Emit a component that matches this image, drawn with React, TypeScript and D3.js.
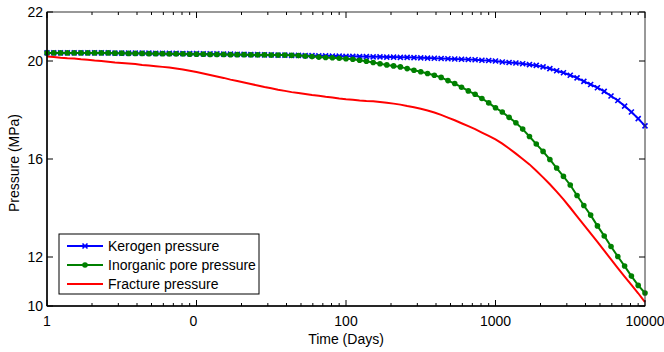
import React, { useEffect, useRef } from "react";
import * as d3 from "d3";

// log-spaced sample grid: 22 samples per decade, 1..10000 days
const STEPS_PER_DECADE = 22;

const kerogen = [
  20.33, 20.33, 20.33, 20.33, 20.33, 20.33, 20.33, 20.33, 20.33, 20.33,
  20.32, 20.32, 20.32, 20.32, 20.32, 20.32, 20.31, 20.31, 20.31, 20.31,
  20.3, 20.3, 20.3, 20.29, 20.29, 20.29, 20.28, 20.28, 20.27, 20.27,
  20.26, 20.26, 20.25, 20.25, 20.24, 20.24, 20.23, 20.23, 20.22, 20.22,
  20.21, 20.21, 20.2, 20.2, 20.19, 20.19, 20.18, 20.18, 20.17, 20.17,
  20.16, 20.16, 20.15, 20.15, 20.14, 20.13, 20.12, 20.11, 20.1, 20.09,
  20.08, 20.07, 20.06, 20.05, 20.03, 20.02, 20.0, 19.96, 19.94, 19.92,
  19.89, 19.85, 19.82, 19.76, 19.69, 19.6, 19.52, 19.42, 19.31, 19.17,
  19.04, 18.91, 18.76, 18.57, 18.39, 18.16, 17.92, 17.65, 17.35,
];

const inorganic = [
  20.33, 20.33, 20.33, 20.33, 20.33, 20.33, 20.33, 20.33, 20.33, 20.33,
  20.32, 20.32, 20.31, 20.31, 20.31, 20.3, 20.3, 20.3, 20.29, 20.29,
  20.29, 20.28, 20.28, 20.28, 20.27, 20.27, 20.27, 20.26, 20.26, 20.26,
  20.25, 20.25, 20.25, 20.24, 20.24, 20.24, 20.23, 20.22, 20.2, 20.18,
  20.16, 20.14, 20.13, 20.11, 20.09, 20.07, 20.03, 19.99, 19.94, 19.89,
  19.84, 19.8, 19.76, 19.69, 19.62, 19.56, 19.49, 19.42, 19.33, 19.2,
  19.08, 18.93, 18.78, 18.64, 18.47, 18.29, 18.09, 17.92, 17.7, 17.48,
  17.22, 16.92, 16.61, 16.31, 15.98, 15.63, 15.29, 14.94, 14.51, 14.1,
  13.71, 13.27, 12.86, 12.43, 12.02, 11.63, 11.22, 10.84, 10.53,
];

const fracture = [
  20.18, 20.16, 20.13, 20.11, 20.1, 20.07, 20.05, 20.02, 20.0, 19.97,
  19.94, 19.92, 19.9, 19.88, 19.84, 19.82, 19.79, 19.76, 19.73, 19.69,
  19.65, 19.6, 19.55, 19.49, 19.43, 19.37, 19.31, 19.24, 19.18, 19.12,
  19.06, 19.0, 18.94, 18.89, 18.83, 18.78, 18.73, 18.69, 18.65, 18.61,
  18.58, 18.54, 18.51, 18.47, 18.44, 18.42, 18.39, 18.37, 18.36, 18.33,
  18.3, 18.26, 18.22, 18.16, 18.11, 18.05, 17.98, 17.9, 17.8, 17.69,
  17.58, 17.46, 17.34, 17.22, 17.08, 16.94, 16.8, 16.63, 16.43, 16.22,
  16.0, 15.78, 15.52, 15.25, 14.97, 14.67, 14.35, 14.01, 13.66, 13.31,
  12.96, 12.62, 12.26, 11.9, 11.55, 11.2, 10.86, 10.52, 10.16,
];

const seriesNames = ["Kerogen pressure", "Inorganic pore pressure", "Fracture pressure"];
const seriesColors = ["#0000ff", "#008000", "#ff0000"];

const xTickValues = [1, 10, 100, 1000, 10000];
const xTickLabels = ["1", "0", "100", "1000", "10000"];
const yTickValues = [10, 12, 16, 20, 22];

const W = 664;
const H = 352;
const margin = { top: 12, right: 19, bottom: 46, left: 47 };
const FONT = "'Liberation Sans', Arial, sans-serif";

export default function App() {
  const ref = useRef<SVGSVGElement | null>(null);

  useEffect(() => {
    if (!ref.current) return;
    const root = d3.select(ref.current);
    root.selectAll("*").remove();

    const iw = W - margin.left - margin.right;
    const ih = H - margin.top - margin.bottom;

    const x = d3.scaleLog().domain([1, 10000]).range([0, iw]);
    const y = d3.scaleLinear().domain([10, 22]).range([ih, 0]);

    const g = root.append("g").attr("transform", `translate(${margin.left},${margin.top})`);

    const times = kerogen.map((_, i) => Math.pow(10, i / STEPS_PER_DECADE));

    const line = d3
      .line<number>()
      .x((_, i) => x(times[i]))
      .y((d) => y(d));

    g.append("defs")
      .append("clipPath")
      .attr("id", "clip")
      .append("rect")
      .attr("x", -4)
      .attr("y", -4)
      .attr("width", iw + 8)
      .attr("height", ih + 8);

    const plot = g.append("g").attr("clip-path", "url(#clip)");

    // kerogen
    plot
      .append("path")
      .datum(kerogen)
      .attr("fill", "none")
      .attr("stroke", seriesColors[0])
      .attr("stroke-width", 2)
      .attr("d", line);
    plot
      .selectAll(".kx")
      .data(kerogen)
      .join("path")
      .attr("class", "kx")
      .attr("transform", (d, i) => `translate(${x(times[i])},${y(d)})`)
      .attr("d", "M-2.5,-2.5L2.5,2.5M-2.5,2.5L2.5,-2.5")
      .attr("stroke", seriesColors[0])
      .attr("stroke-width", 1.6);

    // inorganic
    plot
      .append("path")
      .datum(inorganic)
      .attr("fill", "none")
      .attr("stroke", seriesColors[1])
      .attr("stroke-width", 2)
      .attr("d", line);
    plot
      .selectAll(".ic")
      .data(inorganic)
      .join("circle")
      .attr("class", "ic")
      .attr("cx", (_, i) => x(times[i]))
      .attr("cy", (d) => y(d))
      .attr("r", 2.8)
      .attr("fill", seriesColors[1]);

    // fracture
    plot
      .append("path")
      .datum(fracture)
      .attr("fill", "none")
      .attr("stroke", seriesColors[2])
      .attr("stroke-width", 2)
      .attr("d", line);

    // frame
    g.append("rect")
      .attr("width", iw)
      .attr("height", ih)
      .attr("fill", "none")
      .attr("stroke", "#333")
      .attr("stroke-width", 1);
    g.append("line").attr("x1", 0).attr("x2", 0).attr("y1", 0).attr("y2", ih)
      .attr("stroke", "#000").attr("stroke-width", 1.5);
    g.append("line").attr("x1", 0).attr("x2", iw).attr("y1", ih).attr("y2", ih)
      .attr("stroke", "#000").attr("stroke-width", 1.5);

    // x ticks (inward, bottom and top)
    const minor: number[] = [];
    for (let dec = 1; dec < 10000; dec *= 10) {
      for (let k = 2; k <= 9; k++) minor.push(dec * k);
    }
    const ticks = g.append("g").attr("stroke", "#000").attr("stroke-width", 1);
    xTickValues.forEach((v) => {
      ticks.append("line").attr("x1", x(v)).attr("x2", x(v)).attr("y1", ih).attr("y2", ih - 6);
      ticks.append("line").attr("x1", x(v)).attr("x2", x(v)).attr("y1", 0).attr("y2", 6);
    });
    minor.forEach((v) => {
      ticks.append("line").attr("x1", x(v)).attr("x2", x(v)).attr("y1", ih).attr("y2", ih - 3);
      ticks.append("line").attr("x1", x(v)).attr("x2", x(v)).attr("y1", 0).attr("y2", 3);
    });
    yTickValues.forEach((v) => {
      ticks.append("line").attr("x1", 0).attr("x2", 6).attr("y1", y(v)).attr("y2", y(v));
      ticks.append("line").attr("x1", iw).attr("x2", iw - 6).attr("y1", y(v)).attr("y2", y(v));
    });

    // tick labels
    xTickValues.forEach((v, i) => {
      g.append("text")
        .attr("x", x(v) - (xTickLabels[i] === "0" ? 3 : 0))
        .attr("y", ih + 20)
        .attr("text-anchor", "middle")
        .attr("font-family", FONT)
        .attr("font-size", 14)
        .attr("fill", "#000")
        .text(xTickLabels[i]);
    });
    yTickValues.forEach((v) => {
      g.append("text")
        .attr("x", -4)
        .attr("y", y(v))
        .attr("dy", "0.35em")
        .attr("text-anchor", "end")
        .attr("font-family", FONT)
        .attr("font-size", 14)
        .attr("fill", "#000")
        .text(String(v));
    });

    // axis titles
    g.append("text")
      .attr("x", x(100))
      .attr("y", ih + 38)
      .attr("text-anchor", "middle")
      .attr("font-family", FONT)
      .attr("font-size", 14)
      .text("Time (Days)");
    g.append("text")
      .attr("transform", `translate(${-28},${ih / 2 + 4}) rotate(-90)`)
      .attr("text-anchor", "middle")
      .attr("font-family", FONT)
      .attr("font-size", 14)
      .text("Pressure (MPa)");

    // legend
    const lg = g.append("g").attr("transform", `translate(${59 - margin.left},${234 - margin.top})`);
    lg.append("rect")
      .attr("width", 200)
      .attr("height", 60)
      .attr("fill", "#fff")
      .attr("stroke", "#000")
      .attr("stroke-width", 1);
    seriesNames.forEach((name, i) => {
      const cy = 12 + i * 19;
      lg.append("line")
        .attr("x1", 8)
        .attr("x2", 44)
        .attr("y1", cy)
        .attr("y2", cy)
        .attr("stroke", seriesColors[i])
        .attr("stroke-width", 2);
      if (i === 0) {
        lg.append("path")
          .attr("transform", `translate(26,${cy})`)
          .attr("d", "M-2.5,-2.5L2.5,2.5M-2.5,2.5L2.5,-2.5")
          .attr("stroke", seriesColors[0])
          .attr("stroke-width", 1.6);
      } else if (i === 1) {
        lg.append("circle").attr("cx", 26).attr("cy", cy).attr("r", 2.8).attr("fill", seriesColors[1]);
      }
      lg.append("text")
        .attr("x", 49)
        .attr("y", cy)
        .attr("dy", "0.35em")
        .attr("font-family", FONT)
        .attr("font-size", 14)
        .attr("fill", "#000")
        .text(name);
    });
  }, []);

  return (
    <svg
      ref={ref}
      width={W}
      height={H}
      style={{ position: "absolute", left: 0, top: 0, background: "#fff" }}
    />
  );
}
